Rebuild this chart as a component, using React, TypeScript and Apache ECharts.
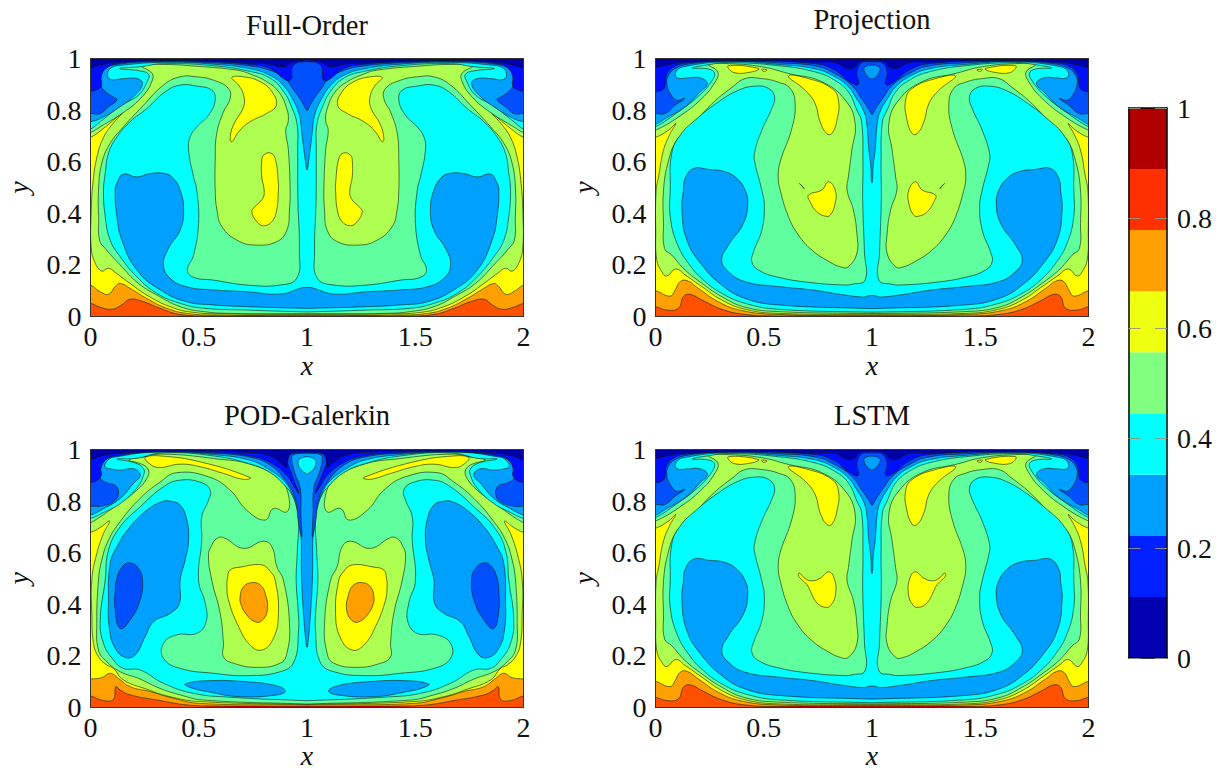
import React, { useEffect, useRef } from "react";
import * as echarts from "echarts";

type Pt = number[];
const FONT = '"Liberation Serif", "DejaVu Serif", serif';

const levelColors: Record<number, string> = {
  1: "#0000a8", 2: "#0010ff", 3: "#0050ff", 4: "#00a0ff", 5: "#00ffff",
  6: "#5fffa0", 7: "#afff50", 8: "#ffff00", 9: "#ffa000", 10: "#ff5000", 11: "#b00000",
};
const colorbarEdges = [0, 0.111, 0.222, 0.333, 0.444, 0.556, 0.667, 0.778, 0.889, 1];
const colorbarColors = ["#0000b0", "#0020ff", "#00a0ff", "#00ffff", "#80ff80", "#efff10", "#ffa000", "#ff3000", "#b00000"];
const xTicks = [0, 0.5, 1, 1.5, 2];
const titles = ["Full-Order", "Projection", "POD-Galerkin", "LSTM"];

// Whole field and bottom wall, shared
const wholeField: Pt[] = [[-.02,1.02],[-.02,-.02],[.98,-.02]];
const floorEdge: Pt[] = [[.3,-.02],[.55,.001],[.98,.003]];

// ---------- Full-Order (left half, x from 0 to 1) ----------
const fo9: Pt[] = [[-.02,1.02],[-.02,.05],[0,.051],[.045,.036],[.1,.028],[.145,.045],[.183,.067],[.245,.057],[.32,.032],[.414,.008],[.57,.002],[.98,.002]];
const fo8: Pt[] = [[-.02,1.02],[-.02,.122],[0,.122],[.045,.096],[.083,.086],[.114,.116],[.137,.128],[.183,.109],[.26,.07],[.352,.032],[.445,.012],[.57,.006],[.98,.005]];
const fo7: Pt[] = [[-.02,1.02],[-.02,.694],[0,.694],[.06,.729],[.145,.787],[.098,.742],[.06,.694],[.03,.619],[.011,.515],[.003,.4],[.003,.27],[.02,.21],[.052,.176],[.083,.187],[.12,.167],[.183,.128],[.26,.083],[.368,.038],[.475,.016],[.645,.01],[.98,.008]];
const fo6: Pt[] = [[-.02,1.02],[-.02,.713],[0,.713],[.045,.735],[.168,.8],[.245,.858],[.283,.91],[.285,.942],[.235,.972],[.337,.977],[.49,.97],[.676,.955],[.737,.94],[.814,.91],[.87,.87],[.905,.81],[.914,.76],[.902,.722],[.914,.645],[.922,.49],[.919,.413],[.907,.335],[.86,.29],[.76,.277],[.676,.296],[.607,.348],[.584,.413],[.576,.49],[.576,.606],[.583,.709],[.614,.793],[.645,.845],[.637,.884],[.568,.916],[.49,.929],[.414,.929],[.337,.897],[.245,.819],[.152,.735],[.09,.67],[.052,.593],[.037,.49],[.038,.38],[.042,.296],[.068,.264],[.137,.2],[.222,.128],[.32,.077],[.414,.038],[.522,.019],[.645,.012],[.98,.011]];
const fo5: Pt[] = [[-.02,1.02],[-.02,.726],[0,.726],[.045,.755],[.145,.82],[.222,.858],[.265,.916],[.268,.939],[.229,.952],[.134,.961],[.229,.968],[.337,.98],[.568,.972],[.737,.95],[.829,.924],[.891,.873],[.93,.81],[.955,.74],[.957,.65],[.958,.45],[.965,.25],[.953,.149],[.876,.122],[.722,.122],[.568,.141],[.476,.152],[.448,.18],[.476,.238],[.499,.361],[.491,.49],[.476,.541],[.453,.645],[.46,.696],[.491,.735],[.545,.78],[.576,.838],[.56,.877],[.491,.893],[.414,.897],[.345,.871],[.26,.806],[.183,.755],[.122,.696],[.083,.632],[.068,.554],[.06,.49],[.068,.387],[.091,.296],[.137,.232],[.214,.154],[.306,.09],[.414,.051],[.522,.032],[.722,.025],[.98,.018]];
const fo4Low: Pt[] = [[.98,.112],[.968,.109],[.876,.087],[.722,.096],[.568,.103],[.445,.115],[.368,.148],[.337,.2],[.36,.264],[.414,.335],[.43,.413],[.414,.49],[.383,.535],[.345,.554],[.276,.554],[.214,.541],[.152,.552],[.125,.522],[.114,.49],[.122,.387],[.145,.296],[.214,.18],[.322,.103],[.445,.057],[.568,.045],[.722,.038],[.98,.032]];
const fo4Top: Pt[] = [[-.02,1.02],[-.02,.755],[0,.755],[.045,.767],[.137,.813],[.206,.858],[.24,.903],[.214,.922],[.152,.922],[.091,.919],[.079,.942],[.098,.965],[.145,.974],[.337,.985],[.568,.978],[.737,.96],[.829,.935],[.891,.895],[.935,.84],[.965,.78],[.975,.72],[.985,.65],[.993,.6],[.998,.57]];
const fo3: Pt[] = [[-.02,1.02],[-.02,.787],[0,.787],[.045,.787],[.083,.813],[.122,.84],[.1,.853],[.068,.873],[.045,.899],[.045,.93],[.068,.96],[.122,.977],[.3,.987],[.568,.983],[.737,.971],[.829,.954],[.9,.922],[.929,.889],[.968,.844],[.998,.799]];
const fo2: Pt[] = [[-.02,1.02],[-.02,.873],[0,.873],[.03,.88],[.05,.893],[.05,.93],[.072,.963],[.125,.981],[.3,.99],[.568,.987],[.737,.977],[.829,.961],[.906,.915],[.929,.922],[.929,.96],[.952,.983],[.99,.987]];
const fo1: Pt[] = [[-.02,1.02],[-.02,.965],[.05,.975],[.12,.985],[.4,.992],[.737,.982],[.829,.978],[.891,.967],[.929,.984],[.99,.993]];
const foYellowUp: Pt[] = [[.653,.926],[.707,.929],[.784,.91],[.838,.871],[.858,.819],[.814,.787],[.737,.755],[.684,.716],[.653,.677],[.645,.69],[.66,.742],[.707,.813],[.707,.858],[.684,.897]];
const foYellowLow: Pt[] = [[.791,.606],[.799,.625],[.83,.634],[.853,.612],[.868,.515],[.868,.49],[.86,.413],[.838,.368],[.799,.352],[.768,.368],[.745,.406],[.76,.426],[.796,.458],[.802,.49],[.791,.541]];

// ---------- Projection / LSTM (left half) ----------
const pr9: Pt[] = [[-.02,1.02],[-.02,.038],[0,.038],[.052,.025],[.106,.032],[.129,.077],[.16,.086],[.214,.064],[.306,.028],[.414,.008],[.568,.002],[.98,.002]];
const pr8: Pt[] = [[-.02,1.02],[-.02,.1],[0,.1],[.068,.079],[.091,.103],[.114,.135],[.145,.139],[.198,.109],[.291,.057],[.399,.023],[.568,.008],[.98,.006]];
const pr7: Pt[] = [[-.02,1.02],[-.02,.694],[0,.694],[.06,.722],[.094,.748],[.068,.709],[.037,.645],[.014,.541],[.003,.49],[.001,.33],[.006,.219],[.029,.174],[.052,.157],[.094,.184],[.137,.161],[.214,.116],[.306,.064],[.414,.028],[.568,.012],[.98,.009]];
const pr6: Pt[] = [[-.02,1.02],[-.02,.722],[0,.722],[.106,.773],[.214,.845],[.276,.91],[.288,.948],[.245,.977],[.337,.98],[.491,.968],[.614,.942],[.768,.91],[.876,.839],[.922,.749],[.907,.645],[.891,.541],[.885,.49],[.914,.413],[.93,.322],[.93,.245],[.891,.193],[.86,.191],[.799,.214],[.722,.258],[.66,.316],[.614,.387],[.576,.49],[.567,.541],[.576,.6],[.63,.73],[.645,.826],[.622,.884],[.568,.908],[.491,.922],[.414,.922],[.353,.888],[.26,.824],[.152,.726],[.098,.683],[.06,.604],[.037,.49],[.037,.361],[.042,.264],[.075,.238],[.137,.18],[.214,.129],[.306,.077],[.414,.036],[.568,.019],[.98,.012]];
const pr5: Pt[] = [[-.02,1.02],[-.02,.735],[0,.735],[.1,.79],[.2,.855],[.262,.915],[.272,.945],[.24,.96],[.17,.963],[.24,.975],[.337,.984],[.568,.972],[.737,.948],[.829,.915],[.891,.87],[.93,.8],[.952,.754],[.958,.6],[.957,.45],[.965,.25],[.968,.141],[.907,.125],[.876,.122],[.722,.131],[.568,.152],[.476,.18],[.445,.212],[.453,.251],[.491,.335],[.503,.426],[.491,.49],[.46,.593],[.457,.632],[.491,.722],[.537,.806],[.55,.851],[.522,.884],[.46,.893],[.383,.877],[.291,.832],[.183,.761],[.114,.703],[.075,.632],[.068,.49],[.068,.387],[.099,.284],[.152,.206],[.222,.141],[.306,.09],[.414,.051],[.568,.028],[.98,.017]];
const pr4Low: Pt[] = [[.98,.08],[.968,.075],[.876,.083],[.722,.103],[.568,.116],[.414,.135],[.337,.174],[.306,.219],[.337,.277],[.406,.361],[.426,.439],[.414,.49],[.376,.535],[.322,.561],[.245,.57],[.176,.574],[.137,.535],[.129,.49],[.122,.413],[.145,.296],[.214,.2],[.306,.122],[.414,.07],[.568,.045],[.98,.031]];
const pr4Top: Pt[] = [[-.02,1.02],[-.02,.745],[0,.745],[.045,.767],[.137,.813],[.206,.871],[.24,.903],[.206,.925],[.152,.925],[.1,.925],[.094,.948],[.129,.968],[.337,.987],[.568,.977],[.737,.96],[.829,.929],[.891,.89],[.929,.844],[.96,.8],[.975,.754],[.985,.65],[.995,.58],[.998,.52]];
const pr3: Pt[] = [[-.02,1.02],[-.02,.787],[0,.787],[.045,.787],[.091,.819],[.134,.845],[.098,.838],[.068,.864],[.052,.903],[.06,.935],[.091,.961],[.152,.978],[.337,.99],[.568,.983],[.737,.971],[.829,.941],[.906,.896],[.952,.844],[.983,.806],[.998,.784]];
const pr2: Pt[] = [[-.02,1.02],[-.02,.871],[0,.871],[.035,.88],[.045,.9],[.05,.935],[.08,.965],[.14,.982],[.4,.99],[.737,.98],[.829,.955],[.898,.909],[.937,.9],[.93,.948],[.952,.983],[.99,.987]];
const pr1: Pt[] = [[-.02,1.02],[-.02,.968],[.05,.975],[.12,.985],[.4,.992],[.737,.986],[.829,.984],[.891,.96],[.92,.967],[.94,.986],[.99,.993]];
const prDrop: Pt[] = [[.985,.973],[.965,.965],[.965,.95],[.98,.93],[.998,.92]];
const prYellowCap: Pt[] = [[.337,.972],[.476,.961],[.445,.948],[.36,.946]];
const prYellowDot: Pt[] = [[.49,.958],[.515,.956],[.5,.95]];
const prYellowUp: Pt[] = [[.614,.932],[.707,.922],[.814,.884],[.845,.838],[.838,.761],[.814,.709],[.791,.709],[.76,.755],[.737,.826],[.691,.877]];
const prYellowLow: Pt[] = [[.707,.471],[.768,.49],[.799,.522],[.83,.49],[.83,.439],[.807,.393],[.784,.389],[.745,.406],[.714,.445]];
const prYellowSpeck: Pt[] = [[.665,.515],[.68,.503],[.686,.495],[.672,.51]];
const lsYellowLow: Pt[] = [[.665,.52],[.69,.5],[.72,.49],[.76,.5],[.8,.525],[.825,.5],[.832,.44],[.81,.395],[.784,.387],[.745,.405],[.715,.45],[.7,.475],[.675,.495],[.66,.51]];

// ---------- POD-Galerkin (left half) ----------
const pg9: Pt[] = [[-.02,1.02],[-.02,.043],[0,.043],[.06,.025],[.106,.03],[.117,.079],[.137,.066],[.183,.047],[.322,.025],[.445,.008],[.568,.004],[.98,.002]];
const pg8: Pt[] = [[-.02,1.02],[-.02,.109],[0,.109],[.052,.114],[.091,.131],[.129,.111],[.183,.079],[.276,.06],[.383,.034],[.507,.014],[.98,.008]];
const pg7: Pt[] = [[-.02,1.02],[-.02,.678],[0,.678],[.045,.697],[.088,.722],[.06,.674],[.029,.596],[.006,.493],[.006,.364],[.014,.247],[.037,.195],[.075,.163],[.106,.15],[.152,.105],[.26,.069],[.368,.04],[.507,.021],[.98,.01]];
const pg6: Pt[] = [[-.02,1.02],[-.02,.715],[0,.715],[.122,.784],[.214,.842],[.26,.887],[.268,.92],[.237,.943],[.176,.959],[.245,.971],[.337,.982],[.568,.965],[.753,.939],[.876,.881],[.915,.82],[.907,.758],[.845,.771],[.807,.726],[.722,.764],[.645,.842],[.545,.894],[.399,.91],[.322,.874],[.229,.81],[.137,.72],[.083,.648],[.052,.57],[.037,.493],[.029,.325],[.037,.221],[.075,.176],[.137,.137],[.222,.111],[.322,.072],[.414,.047],[.522,.027],[.98,.012]];
const pg5: Pt[] = [[-.02,1.02],[-.02,.732],[0,.732],[.06,.755],[.137,.79],[.214,.85],[.245,.9],[.245,.925],[.206,.948],[.122,.963],[.206,.965],[.337,.987],[.568,.975],[.737,.944],[.829,.911],[.891,.866],[.937,.814],[.96,.75],[.955,.6],[.95,.49],[.96,.364],[.961,.3],[.94,.176],[.876,.137],[.722,.122],[.568,.131],[.414,.15],[.337,.189],[.337,.247],[.399,.28],[.491,.286],[.534,.331],[.53,.403],[.499,.493],[.514,.648],[.514,.739],[.545,.803],[.553,.842],[.514,.871],[.414,.881],[.337,.855],[.229,.777],[.137,.7],[.083,.609],[.068,.493],[.045,.338],[.06,.247],[.106,.183],[.152,.15],[.229,.144],[.337,.092],[.476,.053],[.645,.038],[.98,.025]];
const pg4Top: Pt[] = [[-.02,1.02],[-.02,.745],[0,.745],[.06,.77],[.137,.81],[.2,.87],[.23,.9],[.2,.925],[.14,.92],[.09,.925],[.065,.935],[.09,.965],[.145,.98],[.337,.99],[.568,.98],[.737,.958],[.829,.92],[.891,.88],[.925,.84],[.95,.78],[.97,.7],[.975,.5],[.985,.35],[.998,.233]];
const pg4Blob: Pt[] = [[.37,.799],[.414,.784],[.445,.726],[.453,.648],[.437,.57],[.414,.493],[.411,.403],[.368,.364],[.291,.331],[.252,.273],[.206,.202],[.16,.193],[.114,.228],[.088,.299],[.083,.416],[.091,.557],[.122,.622],[.183,.7],[.26,.764],[.329,.797]];
const pg4Lens: Pt[] = [[.437,.089],[.537,.102],[.722,.098],[.861,.082],[.9,.062],[.861,.047],[.691,.04],[.537,.06],[.46,.076]];
const pg3: Pt[] = [[-.02,1.02],[-.02,.78],[0,.78],[.045,.78],[.106,.797],[.129,.829],[.115,.86],[.083,.868],[.045,.887],[.042,.92],[.068,.959],[.122,.972],[.3,.99],[.568,.985],[.737,.97],[.829,.94],[.9,.88],[.945,.81],[.96,.72],[.975,.66],[.972,.75],[.968,.853],[.945,.905],[.929,.97],[.945,.982],[.99,.985]];
const pg3Blob: Pt[] = [[.145,.543],[.18,.56],[.222,.538],[.24,.493],[.229,.416],[.183,.338],[.137,.305],[.114,.377],[.114,.45],[.122,.5]];
const pg2: Pt[] = [[-.02,1.02],[-.02,.872],[0,.872],[.03,.88],[.05,.9],[.048,.925],[.072,.962],[.125,.977],[.3,.992],[.568,.988],[.737,.975],[.829,.95],[.906,.9],[.945,.85],[.963,.83],[.94,.88],[.918,.93],[.905,.965],[.925,.983],[.99,.988]];
const pg1: Pt[] = [[-.02,1.02],[-.02,.96],[.05,.975],[.12,.985],[.4,.994],[.737,.988],[.829,.975],[.885,.945],[.906,.931],[.912,.96],[.93,.986],[.99,.992]];
const pgDrop: Pt[] = [[.985,.97],[.96,.957],[.965,.93],[.985,.912],[.998,.905]];
const pgYellowTop: Pt[] = [[.253,.969],[.322,.975],[.507,.952],[.738,.891],[.707,.884],[.614,.907],[.507,.933],[.414,.943],[.314,.93],[.268,.948]];
const pgGreenIsland: Pt[] = [[.545,.59],[.56,.628],[.583,.654],[.614,.658],[.707,.616],[.799,.644],[.838,.622],[.861,.545],[.891,.493],[.919,.325],[.907,.208],[.876,.17],[.768,.154],[.66,.17],[.614,.195],[.614,.247],[.599,.364],[.56,.493]];
const pgYellowIsland: Pt[] = [[.633,.5],[.645,.532],[.691,.543],[.791,.552],[.83,.527],[.853,.493],[.868,.364],[.845,.267],[.791,.221],[.737,.241],[.684,.312],[.637,.416],[.63,.47]];
const pgOrangeIsland: Pt[] = [[.691,.428],[.707,.467],[.745,.483],[.784,.474],[.807,.441],[.817,.377],[.791,.335],[.76,.331],[.722,.357],[.696,.396]];

type Layer = [number, Pt[], "join" | "twin"];
const fullOrderLayers: Layer[] = [
  [10, wholeField, "join"], [9, fo9, "join"], [8, fo8, "join"], [7, fo7, "join"], [6, fo6, "join"], [8, foYellowUp, "twin"], [8, foYellowLow, "twin"],
  [5, fo5, "join"], [4, fo4Low, "join"], [4, fo4Top, "join"], [3, fo3, "join"], [2, fo2, "join"], [1, fo1, "join"], [11, floorEdge, "join"],
];
const projectionBase: Layer[] = [
  [10, wholeField, "join"], [9, pr9, "join"], [8, pr8, "join"], [7, pr7, "join"], [6, pr6, "join"], [8, prYellowUp, "twin"], [8, prYellowCap, "twin"],
];
const projectionTop: Layer[] = [
  [5, pr5, "join"], [4, pr4Low, "join"], [4, pr4Top, "join"], [3, pr3, "join"], [2, pr2, "join"], [1, pr1, "join"], [4, prDrop, "join"], [11, floorEdge, "join"],
];
const projectionLayers: Layer[] = [...projectionBase, [8, prYellowLow, "twin"], [8, prYellowSpeck, "twin"], [8, prYellowDot, "twin"], ...projectionTop];
const lstmLayers: Layer[] = [...projectionBase, [8, lsYellowLow, "twin"], [8, prYellowDot, "twin"], ...projectionTop];
const podLayers: Layer[] = [
  [10, wholeField, "join"], [9, pg9, "join"], [8, pg8, "join"], [7, pg7, "join"], [6, pg6, "join"], [8, pgYellowTop, "twin"],
  [5, pg5, "join"], [7, pgGreenIsland, "twin"], [8, pgYellowIsland, "twin"], [9, pgOrangeIsland, "twin"],
  [4, pg4Top, "join"], [4, pg4Blob, "twin"], [4, pg4Lens, "twin"], [3, pg3Blob, "twin"],
  [3, pg3, "join"], [2, pg2, "join"], [1, pg1, "join"], [5, pgDrop, "join"], [11, floorEdge, "join"],
];
const panels: Layer[][] = [fullOrderLayers, projectionLayers, podLayers, lstmLayers];

const mirrorPts = (c: Pt[]) => c.map(([x, y]) => [2 - x, y]);
function expand(layers: Layer[]) {
  const out: { level: number; pts: Pt[] }[] = [];
  for (const [level, chain, kind] of layers) {
    if (kind === "join") out.push({ level, pts: [...chain, ...mirrorPts(chain).reverse()] });
    else { out.push({ level, pts: chain }); out.push({ level, pts: mirrorPts(chain) }); }
  }
  return out;
}

const grids = [
  { left: 90.5, top: 58.5, width: 433, height: 258 },
  { left: 655.5, top: 58.5, width: 433, height: 258 },
  { left: 90.5, top: 449.5, width: 433, height: 257.5 },
  { left: 655.5, top: 449.5, width: 433, height: 257.5 },
];
const titlePos = [[302, 6], [867, 0], [302, 396], [867, 396]];

function buildOption() {
  const tickStyle = { fontFamily: FONT, fontSize: 28, color: "#111" };
  const frame = { show: true, onZero: false, lineStyle: { color: "#333", width: 1 } };
  const nameStyle = { fontFamily: FONT, fontSize: 28, fontStyle: "italic", color: "#111" };
  const xAxis: any[] = [];
  const yAxis: any[] = [];
  const series: any[] = [];
  grids.forEach((_, i) => {
    const base = { gridIndex: i, type: "value", z: 5, splitLine: { show: false }, axisTick: { show: false }, axisLine: frame };
    xAxis.push({ ...base, min: 0, max: 2, interval: xTicks[1], position: "bottom", name: "x", nameLocation: "middle", nameGap: 34, nameTextStyle: nameStyle, axisLabel: { ...tickStyle, margin: 6 } });
    xAxis.push({ ...base, min: 0, max: 2, position: "top", axisLabel: { show: false } });
    yAxis.push({ ...base, min: 0, max: 1, interval: 0.2, position: "left", name: "y", nameLocation: "middle", nameGap: 58, nameRotate: 90, nameTextStyle: nameStyle, axisLabel: { ...tickStyle, margin: 9 } });
    yAxis.push({ ...base, min: 0, max: 1, position: "right", axisLabel: { show: false } });
    const polys = expand(panels[i]);
    series.push({
      type: "custom", xAxisIndex: i * 2, yAxisIndex: i * 2, clip: true, silent: true,
      data: polys.map((_, k) => [k, 0]),
      renderItem: (p: any, api: any) => {
        const poly = polys[p.dataIndex];
        return {
          type: "polygon",
          shape: { points: poly.pts.map((pt) => api.coord(pt)), smooth: 0.45 },
          style: { fill: levelColors[poly.level], stroke: poly.level === 11 ? "none" : "rgba(15,25,15,0.85)", lineWidth: 0.7 },
        };
      },
    });
  });
  // colourbar
  const barAxis = { gridIndex: 4, z: 5, type: "value", splitLine: { show: false } };
  const barLine = { show: true, onZero: false, lineStyle: { color: "#000", width: 1.5 } };
  const barTick = { show: true, inside: true, length: 12, lineStyle: { color: "rgba(150,150,130,0.9)", width: 1 } };
  xAxis.push({ ...barAxis, min: 0, max: 1, position: "bottom", axisTick: { show: false }, axisLabel: { show: false }, axisLine: barLine });
  xAxis.push({ ...barAxis, min: 0, max: 1, position: "top", axisTick: { show: false }, axisLabel: { show: false }, axisLine: barLine });
  yAxis.push({ ...barAxis, min: 0, max: 1, interval: 0.2, position: "left", axisTick: barTick, axisLabel: { show: false }, axisLine: barLine });
  yAxis.push({ ...barAxis, min: 0, max: 1, interval: 0.2, position: "right", axisTick: barTick, axisLabel: { ...tickStyle, margin: 10 }, axisLine: barLine });
  series.push({
    type: "custom", xAxisIndex: 8, yAxisIndex: 8, silent: true,
    data: colorbarColors.map((_, k) => [k, 0]),
    renderItem: (p: any, api: any) => {
      const k = p.dataIndex;
      const a = api.coord([0, colorbarEdges[k]]);
      const b = api.coord([1, colorbarEdges[k + 1]]);
      return { type: "rect", shape: { x: a[0], y: b[1], width: b[0] - a[0], height: a[1] - b[1] }, style: { fill: colorbarColors[k] } };
    },
  });
  return {
    animation: false,
    backgroundColor: "#fff",
    title: titles.map((t, i) => ({
      text: t, left: titlePos[i][0], top: titlePos[i][1], textAlign: "center",
      textStyle: { fontFamily: FONT, fontSize: 28.5, fontWeight: "normal", color: "#111" },
    })),
    grid: [...grids, { left: 1128.5, top: 108, width: 38.5, height: 550 }],
    xAxis, yAxis, series,
  };
}

export default function App() {
  const ref = useRef<HTMLDivElement>(null);
  useEffect(() => {
    const chart = echarts.init(ref.current!, null, { renderer: "svg" });
    chart.setOption(buildOption() as any);
    return () => chart.dispose();
  }, []);
  return <div ref={ref} style={{ position: "fixed", left: 0, top: 0, width: 1225, height: 774 }} />;
}
